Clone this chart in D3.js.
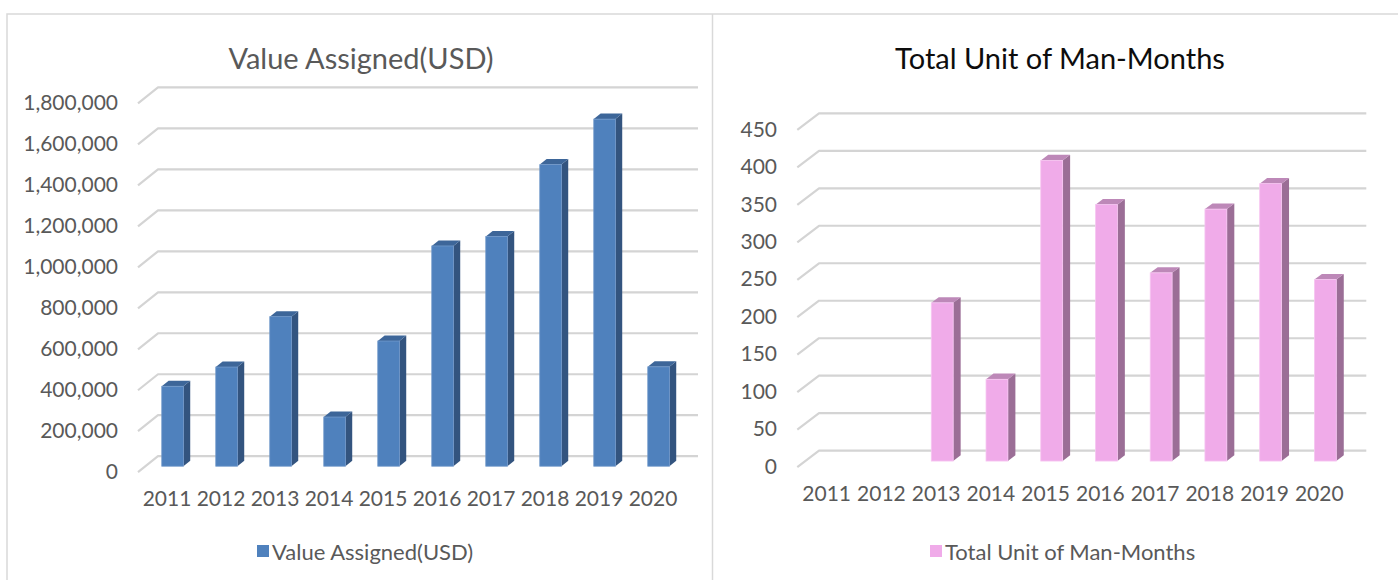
<!DOCTYPE html>
<html>
<head>
<meta charset="utf-8">
<script src="https://cdn.jsdelivr.net/npm/d3@7/dist/d3.min.js"></script>
<style>
  html, body { margin: 0; padding: 0; background: #fff; }
  svg { display: block; }
  text { font-family: Lato, "Open Sans", sans-serif; }
</style>
</head>
<body>
<svg id="chart" width="1398" height="580"></svg>
<script>
// ---- data ----
const years = ["2011","2012","2013","2014","2015","2016","2017","2018","2019","2020"];
const valueAssigned = [390000, 484000, 730000, 240000, 611000, 1075000, 1121000, 1472000, 1694000, 485000];
const manMonths = [null, null, 211, 109, 401, 342, 251, 336, 370, 242];
const valueTicks = [0, 200000, 400000, 600000, 800000, 1000000, 1200000, 1400000, 1600000, 1800000];
const manTicks = [0, 50, 100, 150, 200, 250, 300, 350, 400, 450];

const svg = d3.select("#chart");

// panel borders
svg.append("rect").attr("x", 7).attr("y", 14).attr("width", 1400).attr("height", 600)
  .attr("fill", "none").attr("stroke", "#d9d9d9").attr("stroke-width", 1.5);
svg.append("line").attr("x1", 712.5).attr("x2", 712.5).attr("y1", 14).attr("y2", 580)
  .attr("stroke", "#d9d9d9").attr("stroke-width", 1.5);

function drawChart(cfg) {
  const g = svg.append("g");
  const x = d3.scaleBand().domain(years).range([cfg.x0, cfg.x1])
    .paddingInner(0.6).paddingOuter(0.3);
  const y = d3.scaleLinear().domain([0, cfg.max]).range([cfg.y0, cfg.yTop]);
  const ddx = cfg.ddx, ddy = cfg.ddy;
  const f0 = 0.31, f1 = 0.69;

  // title
  g.append("text").attr("x", cfg.titleX).attr("y", 57).attr("text-anchor", "middle")
    .attr("dominant-baseline", "central").attr("font-size", 29)
    .attr("fill", cfg.titleColor).text(cfg.title);

  // gridlines (3D wall)
  const grid = g.append("g");
  cfg.ticks.forEach(t => {
    const yy = y(t);
    grid.append("path")
      .attr("d", `M${cfg.x0 - 2},${yy + 1.5} L${cfg.x0 + ddx},${yy + ddy} L${cfg.x1 + ddx},${yy + ddy}`)
      .attr("fill", "none").attr("stroke", "#d4d4d4").attr("stroke-width", 2.2)
      .attr("stroke-linejoin", "round");
  });

  // y axis labels
  const yAxis = d3.axisLeft(y).tickValues(cfg.ticks).tickFormat(cfg.fmt).tickSize(0).tickPadding(0);
  const ya = g.append("g").attr("transform", `translate(${cfg.labelX},1)`).call(yAxis);
  ya.select(".domain").remove();
  ya.selectAll("text").attr("font-size", 21).attr("fill", "#595959")
    .attr("font-family", "Lato, 'Open Sans', sans-serif");

  // x axis labels
  const xAxis = d3.axisBottom(x).tickSize(0).tickPadding(0);
  const xa = g.append("g").attr("transform", `translate(0,${cfg.y0 + 20})`).call(xAxis);
  xa.select(".domain").remove();
  xa.selectAll("text").attr("font-size", 21).attr("fill", "#595959")
    .attr("font-family", "Lato, 'Open Sans', sans-serif");

  // bars
  const data = years.map((yr, i) => ({ yr, v: cfg.values[i] })).filter(d => d.v != null);
  const bw = x.bandwidth();
  const bars = g.append("g").selectAll("g").data(data).join("g");
  const ox0 = f0 * ddx, oy0 = f0 * ddy, odx = (f1 - f0) * ddx, ody = (f1 - f0) * ddy;
  // side face
  bars.append("path").attr("fill", cfg.side).attr("d", d => {
    const xr = x(d.yr) + bw + ox0, yt = y(d.v) + oy0, yb = y(0) + oy0;
    return `M${xr},${yt} L${xr + odx},${yt + ody} L${xr + odx},${yb + ody} L${xr},${yb} Z`;
  });
  // top face
  bars.append("path").attr("fill", cfg.top).attr("d", d => {
    const xl = x(d.yr) + ox0, xr = xl + bw, yt = y(d.v) + oy0;
    return `M${xl},${yt} L${xl + odx},${yt + ody} L${xr + odx},${yt + ody} L${xr},${yt} Z`;
  });
  // front face
  bars.append("rect")
    .attr("x", d => x(d.yr) + ox0).attr("y", d => y(d.v) + oy0)
    .attr("width", bw).attr("height", d => y(0) - y(d.v))
    .attr("fill", cfg.front).attr("stroke", cfg.edge).attr("stroke-width", 0.8);

  // legend
  const lg = g.append("g").attr("transform", `translate(${cfg.legendX},551)`);
  lg.append("rect").attr("x", 0).attr("y", -6).attr("width", 12).attr("height", 12).attr("fill", cfg.front);
  lg.append("text").attr("x", 15).attr("y", 0).attr("dominant-baseline", "central")
    .attr("font-size", 22).attr("fill", "#595959").text(cfg.title);
}

drawChart({
  title: "Value Assigned(USD)", titleX: 361, titleColor: "#595959",
  values: valueAssigned, ticks: valueTicks, max: 1800000, fmt: d3.format(","),
  x0: 140, x1: 680, y0: 470.7, yTop: 101.9, ddx: 18, ddy: -14.5, labelX: 118,
  front: "#4f81bd", side: "#33547f", top: "#3d6699", edge: "#6f97c9",
  legendX: 257
});

drawChart({
  title: "Total Unit of Man-Months", titleX: 1060, titleColor: "#0d0d0d",
  values: manMonths, ticks: manTicks, max: 450, fmt: d3.format("d"),
  x0: 799.3, x1: 1346.6, y0: 465.7, yTop: 128.3, ddx: 19.7, ddy: -15, labelX: 777,
  front: "#f0abe9", side: "#9b6e96", top: "#bd88b8", edge: "#f7c6f2",
  legendX: 930
});
</script>
</body>
</html>
